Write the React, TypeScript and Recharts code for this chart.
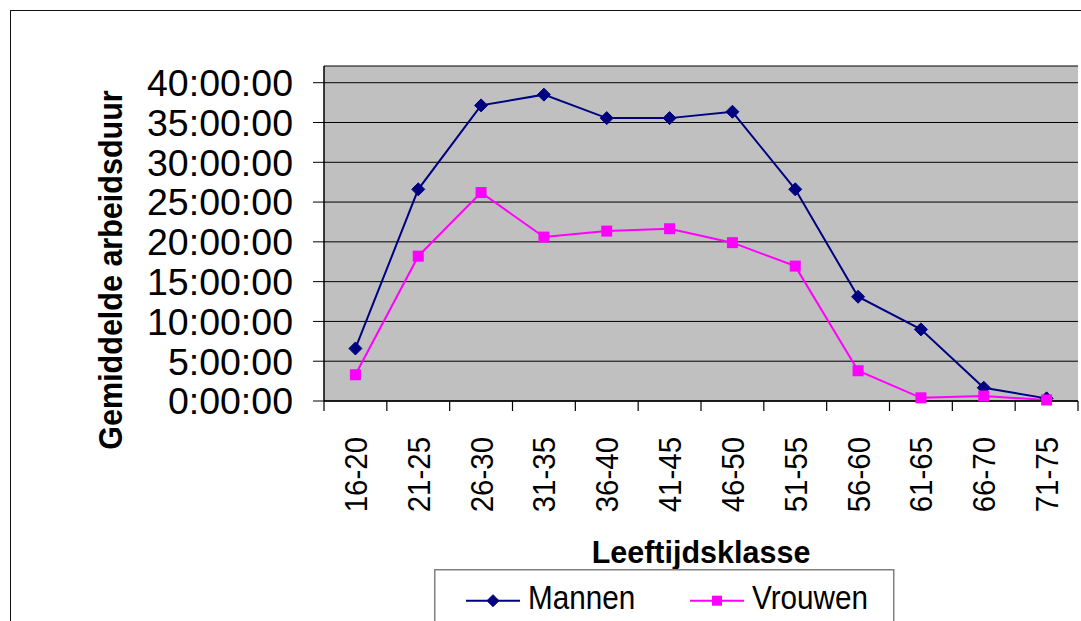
import React from "react";
import { LineChart, Line, XAxis, YAxis, CartesianGrid, Legend, Label } from "recharts";

const categories = ["16-20", "21-25", "26-30", "31-35", "36-40", "41-45", "46-50", "51-55", "56-60", "61-65", "66-70", "71-75"];
const mannen = [6.6, 26.6, 37.15, 38.5, 35.55, 35.55, 36.35, 26.6, 13.1, 9.0, 1.67, 0.33];
const vrouwen = [3.3, 18.2, 26.2, 20.6, 21.35, 21.65, 19.9, 16.95, 3.8, 0.4, 0.63, 0.13];
const yTicks = [0, 5, 10, 15, 20, 25, 30, 35, 40];
const yMax = 42.1;

const data = categories.map((klasse, i) => ({ klasse, Mannen: mannen[i], Vrouwen: vrouwen[i] }));

const FONT = "'Liberation Sans', Arial, Helvetica, sans-serif";
const NAVY = "#000080";
const MAGENTA = "#FF00FF";
const FRAME = "#808080";
const X_TICK = 9;
const PLOT_W = 754;
const HALF_BAND = PLOT_W / categories.length / 2;

const fmtTime = (h: number) => `${Math.floor(h)}:00:00`;

const Diamond = ({ cx, cy, size = 6.5 }: any) =>
  cx == null || cy == null ? null : (
    <path d={`M${cx},${cy - size}L${cx + size},${cy}L${cx},${cy + size}L${cx - size},${cy}Z`} fill={NAVY} stroke={NAVY} strokeWidth={1} />
  );

const Square = ({ cx, cy, size = 5.5 }: any) =>
  cx == null || cy == null ? null : <rect x={cx - size} y={cy - size} width={size * 2} height={size * 2} fill={MAGENTA} />;

// Excel zet de streepjes tussen de categorieen, niet in het midden
const XTick = (props: any) => {
  const { x, y, payload, width, visibleTicksCount, index } = props;
  const count = visibleTicksCount ?? categories.length;
  const band = (width ?? PLOT_W) / count;
  const top = y - X_TICK;
  const left = payload.coordinate - band / 2;
  return (
    <g>
      <line x1={left} x2={left} y1={top} y2={top + 10} stroke="#000" strokeWidth={1.2} />
      {index === count - 1 && <line x1={left + band} x2={left + band} y1={top} y2={top + 10} stroke="#000" strokeWidth={1.2} />}
      <g transform={`translate(${x},${top + 36}) rotate(-90)`}>
        <text textAnchor="end" dy="0.36em" fontSize={32} fontFamily={FONT} fill="#000" transform="scale(0.92,1)">
          {payload.value}
        </text>
      </g>
    </g>
  );
};

const LegendBox = ({ payload }: any) => (
  <svg width={470} height={52} style={{ display: "block" }}>
    <rect x={0.75} y={0.75} width={459} height={80} fill="#fff" stroke={FRAME} strokeWidth={1.5} />
    {(payload || []).map((item: any, i: number) => {
      const ox = 32 + i * 224;
      const isMan = item.dataKey === "Mannen";
      return (
        <g key={item.value}>
          <line x1={ox} x2={ox + 54} y1={31.7} y2={31.7} stroke={item.color} strokeWidth={2} />
          {isMan ? <Diamond cx={ox + 27} cy={31.7} size={6} /> : <Square cx={ox + 27} cy={31.7} size={5} />}
          <text x={ox + 62} y={40.3} fontSize={33} fontFamily={FONT} fill="#000" transform={`translate(${(ox + 62) * 0.1},0) scale(0.9,1)`}>
            {item.value}
          </text>
        </g>
      );
    })}
  </svg>
);

export default function App() {
  return (
    <div style={{ position: "absolute", left: 0, top: 0, width: 1081, height: 621, overflow: "hidden", background: "#fff" }}>
      <div style={{ position: "absolute", left: 10, top: 10, width: 1200, height: 800, border: "1.5px solid #111" }} />
      <div style={{ position: "absolute", left: 0, top: 0 }}>
        <LineChart width={1081} height={621} data={data} margin={{ top: 66, right: 3, left: 0, bottom: 0 }}>
          <CartesianGrid vertical={false} stroke="#000" strokeWidth={1} fill="#C0C0C0" fillOpacity={1} />
          {/* bovenste en rechter as dienen alleen als grijze kader van het plotvlak */}
          <XAxis xAxisId="top" orientation="top" dataKey="klasse" height={0} tick={false} tickLine={false} axisLine={{ stroke: FRAME, strokeWidth: 1.5 }} />
          <YAxis yAxisId="right" orientation="right" domain={[0, yMax]} width={0} tick={false} tickLine={false} axisLine={{ stroke: FRAME, strokeWidth: 1.5 }} />
          <XAxis
            dataKey="klasse"
            height={220}
            interval={0}
            padding={{ left: HALF_BAND, right: HALF_BAND }}
            tickSize={X_TICK}
            tickMargin={0}
            tickLine={false}
            axisLine={{ stroke: "#000", strokeWidth: 1.5 }}
            tick={<XTick />}
          >
            <Label
              content={({ viewBox }: any) => (
                <text x={viewBox.x + viewBox.width / 2} y={viewBox.y + 162} textAnchor="middle" fontSize={30.5} fontWeight="bold" fontFamily={FONT} fill="#000">
                  Leeftijdsklasse
                </text>
              )}
            />
          </XAxis>
          <YAxis
            type="number"
            domain={[0, yMax]}
            ticks={yTicks}
            interval={0}
            width={324}
            tickSize={11}
            tickMargin={20}
            tickFormatter={fmtTime}
            axisLine={{ stroke: "#000", strokeWidth: 1.5 }}
            tickLine={{ stroke: "#000" }}
            tick={{ fill: "#000", fontSize: 37.5, fontFamily: FONT }}
          >
            <Label
              content={({ viewBox }: any) => (
                <g transform={`translate(${viewBox.x + 110},${viewBox.y + viewBox.height / 2 + 36.5}) rotate(-90)`}>
                  <text textAnchor="middle" dy="0.35em" fontSize={33} fontWeight="bold" fontFamily={FONT} fill="#000" transform="scale(0.925,1)">
                    Gemiddelde arbeidsduur
                  </text>
                </g>
              )}
            />
          </YAxis>
          <Legend
            layout="horizontal"
            verticalAlign="middle"
            align="center"
            wrapperStyle={{ left: 434, top: 569, width: 470 }}
            content={<LegendBox />}
          />
          <Line
            type="linear"
            dataKey="Mannen"
            stroke={NAVY}
            strokeWidth={2}
            dot={(p: any) => <Diamond key={`m${p.index}`} cx={p.cx} cy={p.cy} />}
            activeDot={false}
            isAnimationActive={false}
          />
          <Line
            type="linear"
            dataKey="Vrouwen"
            stroke={MAGENTA}
            strokeWidth={2}
            dot={(p: any) => <Square key={`v${p.index}`} cx={p.cx} cy={p.cy} />}
            activeDot={false}
            isAnimationActive={false}
          />
        </LineChart>
      </div>
    </div>
  );
}
